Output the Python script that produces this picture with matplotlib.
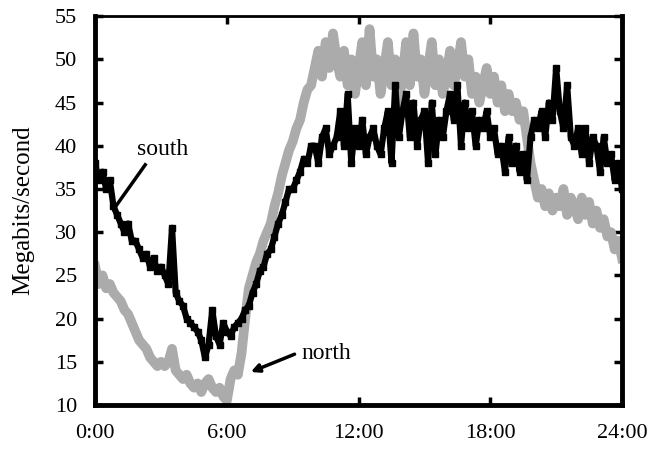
import numpy as np
import matplotlib
matplotlib.use("Agg")
import matplotlib.pyplot as plt

plt.rcParams['font.family'] = ['Liberation Serif', 'DejaVu Serif']

# ── data (10-minute samples over the day) ─────────────────────────────
hours = np.linspace(0, 24, 145)

south = [38, 36, 37, 35, 36, 33,
         32, 31, 30, 31, 29, 29,
         28, 27, 27.5, 26, 27, 25.5,
         26, 25, 24, 30.5, 23, 22,
         21.5, 20, 19.5, 19, 18.5, 17.5,
         15.5, 17, 21, 18, 17, 19.5,
         18.5, 18, 19, 19.5, 20, 21,
         21.5, 23, 24, 25.5, 26, 27.5,
         28, 29.5, 31, 32, 33.5, 35,
         35, 36, 37, 38.5, 38, 40,
         40, 38, 41, 42, 39, 40,
         41, 44, 40, 46, 38, 42,
         40, 43, 39, 41, 42, 40,
         39, 42, 44, 38, 47, 41,
         44, 46, 41, 45, 40, 43,
         44, 38, 45, 39, 43, 41,
         44, 46, 43, 47, 40, 45,
         42, 44, 40, 43, 42, 44,
         41, 42, 39, 40, 37, 41,
         38, 40, 37, 39, 36, 41,
         43, 42, 44, 41, 45, 43,
         49, 44, 42, 47, 41, 40,
         42, 39, 42, 38, 41, 40,
         37, 41, 38, 39, 36, 38,
         35]

north = [26, 24, 25, 23.5, 24, 23,
         22.5, 22, 21, 20.5, 19.5, 18.5,
         17.5, 17, 16.5, 15.5, 15, 14.5,
         15, 14.5, 15, 16.5, 14, 13.5,
         13, 13.5, 12.5, 12, 12.5, 11.5,
         12.5, 13, 12, 11.5, 12, 11,
         10.5, 13, 14, 13.5, 16, 20,
         23.5, 25, 26.5, 27.5, 29, 30,
         31, 33, 34.5, 36.5, 38, 39.5,
         40.5, 42, 43, 45, 46.5, 47,
         49, 51, 48, 52, 49, 53,
         50, 48, 51, 47, 50, 46,
         49, 52, 47, 53.5, 48, 50,
         46, 49, 52, 47, 50, 45,
         48, 52, 47, 53, 48, 50,
         46, 49, 52, 47, 50, 46,
         48, 51, 47, 49, 52, 48,
         50, 46, 48, 45, 47, 49,
         46, 48, 45, 47, 44, 46,
         44, 45, 43, 44, 41, 38,
         36, 34, 35, 33, 34.5, 32.5,
         34, 33, 35, 32, 34, 33,
         31.5, 34, 32, 33.5, 31, 32.5,
         30.5, 31.5, 29.5, 30, 28, 29,
         27]

x_ticks = [0, 6, 12, 18, 24]
x_labels = ['0:00', '6:00', '12:00', '18:00', '24:00']
y_ticks = [10, 15, 20, 25, 30, 35, 40, 45, 50, 55]

# ── figure ────────────────────────────────────────────────────────────
fig = plt.figure(figsize=(6.52, 4.49), dpi=100)
ax = fig.add_axes([0.146, 0.098, 0.808, 0.866])

ax.plot(hours, north, color='#ababab', lw=7, solid_joinstyle='round', zorder=2)
ax.plot(hours, south, color='black', lw=4.5, marker='s', ms=4, zorder=3)

ax.set_xlim(0, 24)
ax.set_ylim(10, 55)
ax.set_xticks(x_ticks)
ax.set_xticklabels(x_labels)
ax.set_yticks(y_ticks)
ax.tick_params(direction='in', length=6, width=2.5, labelsize=16,
               top=True, right=True)
ax.tick_params(axis='x', pad=14)
ax.tick_params(axis='y', pad=13)
for side in ['left', 'bottom', 'right']:
    ax.spines[side].set_linewidth(3.5)
ax.spines['top'].set_linewidth(2)

ax.set_ylabel('Megabits/second', fontsize=18)
ax.yaxis.set_label_coords(-0.115, 0.5)

# labels with pointers
ax.text(1.9, 39.6, 'south', fontsize=17, ha='left', va='center')
ax.plot([2.28, 0.91], [37.8, 32.9], color='black', lw=2.5, zorder=4)
ax.text(9.4, 16.0, 'north', fontsize=17, ha='left', va='center')
ax.annotate('', xy=(6.97, 13.7), xytext=(9.2, 16.0),
            arrowprops=dict(arrowstyle='-|>', color='black', lw=2.5,
                            mutation_scale=12))

fig.savefig('out.png', dpi=100)
